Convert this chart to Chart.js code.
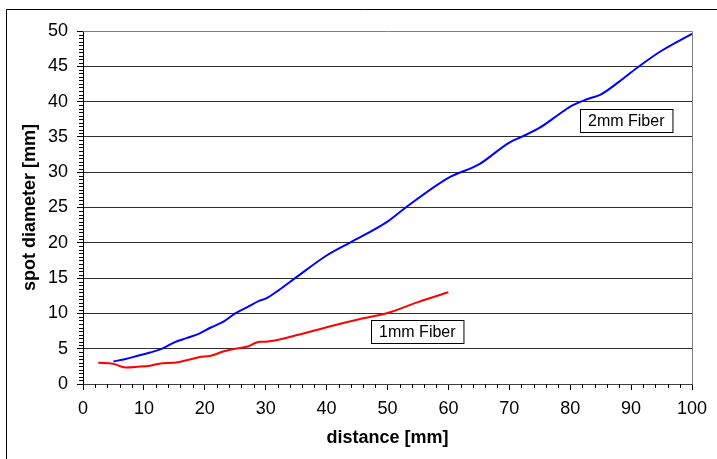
<!DOCTYPE html>
<html lang="en">
<head>
  <meta charset="UTF-8" />
  <title>Spot diameter vs distance</title>
  <style>
    html, body { margin: 0; padding: 0; background: #fff; }
    #wrap { width: 717px; height: 459px; position: relative; }
  </style>
</head>
<body>
  <div id="wrap"><canvas id="spotChart"></canvas></div>

<script src="https://cdn.jsdelivr.net/npm/chart.js"></script>
<script>
// 2mm fiber readings
const dist2mm = [5, 7, 9, 11, 13, 15, 17, 19, 21, 23, 25, 27, 29, 30, 32, 35, 40, 44, 50, 53, 60, 65, 70, 72, 75, 78, 80, 83, 85, 88, 91, 95, 100];
const spot2mm = [3.2, 3.55, 4.0, 4.45, 5.0, 5.9, 6.5, 7.1, 8.0, 8.8, 10.0, 10.9, 11.8, 12.1, 13.2, 15.1, 18.2, 20.1, 23.0, 25.0, 29.2, 31.1, 34.2, 35.0, 36.3, 38.1, 39.3, 40.4, 41.0, 42.8, 44.8, 47.2, 49.6];

// 1mm fiber readings
const dist1mm = [2.5, 5, 7, 9, 11, 13, 15, 17, 19, 21, 23, 25, 27, 29, 30, 35, 40, 45, 50, 55, 60];
const spot1mm = [3.0, 2.85, 2.35, 2.45, 2.6, 2.95, 3.0, 3.35, 3.8, 4.0, 4.6, 5.0, 5.3, 6.0, 6.0, 6.9, 8.05, 9.1, 10.05, 11.6, 13.0];

const seriesNames = ["2mm Fiber", "1mm Fiber"];
const xTicks = [0, 10, 20, 30, 40, 50, 60, 70, 80, 90, 100];
const yTicks = [0, 5, 10, 15, 20, 25, 30, 35, 40, 45, 50];

const FONT = "'Liberation Sans', Arial, sans-serif";

// boxed labels next to the curves (data coords)
const labelBoxes = [
  { text: seriesNames[0], x: 89.2, y: 37.3 },
  { text: seriesNames[1], x: 54.9, y: 7.4 }
];

const toPts = (xs, ys) => xs.map((x, i) => ({ x, y: ys[i] }));

// frame, minor ticks and labels
const decorPlugin = {
  id: "decor",
  beforeDatasetsDraw(chart) {
    const { ctx, chartArea: a } = chart;
    ctx.save();
    ctx.strokeStyle = "#808080";
    ctx.lineWidth = 1;
    ctx.beginPath();
    ctx.moveTo(a.left, a.top + 0.5);
    ctx.lineTo(a.right + 0.5, a.top + 0.5);
    ctx.lineTo(a.right + 0.5, a.bottom);
    ctx.stroke();
    ctx.restore();
  },
  afterDraw(chart) {
    const { ctx, chartArea: a, scales } = chart;
    ctx.save();
    // outer border (only left/top visible)
    ctx.strokeStyle = "#000";
    ctx.lineWidth = 1;
    ctx.beginPath();
    ctx.moveTo(6.5, 470);
    ctx.lineTo(6.5, 9.5);
    ctx.lineTo(730, 9.5);
    ctx.stroke();

    // minor ticks
    ctx.strokeStyle = "#000";
    ctx.beginPath();
    for (let v = 0; v <= 100; v += 2) {
      if (v % 10 === 0) continue;
      const px = Math.round(scales.x.getPixelForValue(v)) + 0.5;
      ctx.moveTo(px, a.bottom);
      ctx.lineTo(px, a.bottom + 4);
    }
    for (let v = 0; v <= 50; v += 0.5) {
      if (v % 5 === 0) continue;
      const py = Math.round(scales.y.getPixelForValue(v)) + 0.5;
      ctx.moveTo(a.left, py);
      ctx.lineTo(a.left - 4, py);
    }
    ctx.stroke();

    // labels
    ctx.font = "16px " + FONT;
    ctx.textAlign = "center";
    ctx.textBaseline = "middle";
    labelBoxes.forEach(b => {
      const cx = scales.x.getPixelForValue(b.x);
      const cy = scales.y.getPixelForValue(b.y);
      const w = ctx.measureText(b.text).width + 16;
      const h = 23;
      const x0 = Math.round(cx - w / 2) + 0.5;
      const y0 = Math.round(cy - h / 2) + 0.5;
      ctx.fillStyle = "#fff";
      ctx.fillRect(x0, y0, w, h);
      ctx.strokeStyle = "#000";
      ctx.strokeRect(x0, y0, w, h);
      ctx.fillStyle = "#000";
      ctx.fillText(b.text, cx, cy + 1);
    });
    ctx.restore();
  }
};

new Chart(document.getElementById("spotChart").getContext("2d"), {
  type: "line",
  data: {
    datasets: [
      { label: seriesNames[0], data: toPts(dist2mm, spot2mm), borderColor: "#0000ff", borderWidth: 2, pointRadius: 0, cubicInterpolationMode: "monotone", fill: false },
      { label: seriesNames[1], data: toPts(dist1mm, spot1mm), borderColor: "#ff0000", borderWidth: 2, pointRadius: 0, cubicInterpolationMode: "monotone", fill: false }
    ]
  },
  options: {
    responsive: true,
    maintainAspectRatio: false,
    animation: false,
    layout: { padding: { left: 0, top: 31, right: 25, bottom: 0 } },
    plugins: { legend: { display: false }, tooltip: { enabled: false } },
    scales: {
      x: {
        type: "linear",
        min: 0, max: 100,
        afterFit: s => { s.height = 75; },
        afterBuildTicks: s => { s.ticks = xTicks.map(v => ({ value: v })); },
        ticks: { color: "#000", font: { family: FONT, size: 18 }, padding: 8, maxRotation: 0 },
        grid: { drawOnChartArea: false, drawTicks: true, tickLength: 6, tickColor: "#000" },
        border: { color: "#404040", width: 1 },
        title: { display: true, text: "distance [mm]", color: "#000", font: { family: FONT, size: 18, weight: "bold" }, padding: { top: 10, bottom: 10 } }
      },
      y: {
        type: "linear",
        min: 0, max: 50,
        afterFit: s => { s.width = 83; },
        afterBuildTicks: s => { s.ticks = yTicks.map(v => ({ value: v })); },
        ticks: { color: "#000", font: { family: FONT, size: 18 }, padding: 9 },
        grid: {
          color: c => (c.tick && (c.tick.value === 0 || c.tick.value === 50)) ? "rgba(0,0,0,0)" : "#303030",
          tickColor: "#000", tickLength: 6
        },
        border: { color: "#000", width: 1 },
        title: { display: true, text: "spot diameter [mm]", color: "#000", font: { family: FONT, size: 18, weight: "bold" }, padding: { top: 19, bottom: 0 } }
      }
    }
  },
  plugins: [decorPlugin]
});
</script>
</body>
</html>
